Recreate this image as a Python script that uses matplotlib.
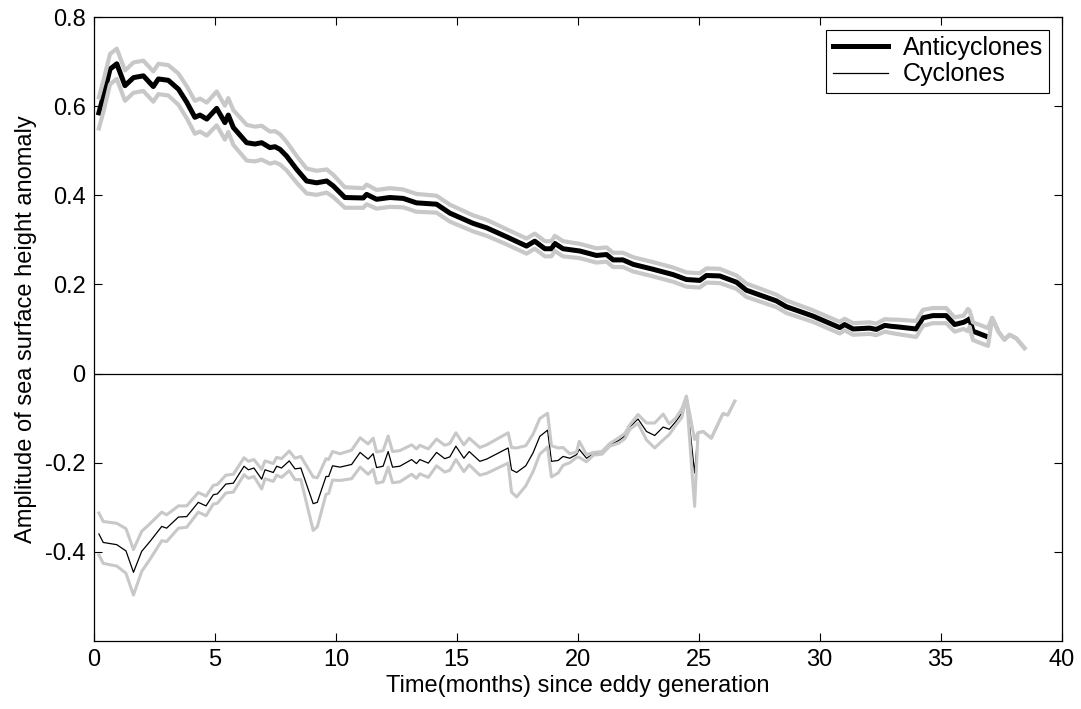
import numpy as np
import matplotlib
matplotlib.use('Agg')
import matplotlib.pyplot as plt

plt.rcParams['font.family'] = ['Liberation Sans', 'DejaVu Sans']

# Anticyclones: time (months), mean amplitude, half-width of the grey band
anti_t = [0.20, 0.40, 0.66, 0.94, 1.28, 1.63, 2.04, 2.45, 2.66, 3.07, 3.49, 3.83,
          4.17, 4.38, 4.66, 5.07, 5.41, 5.55, 5.76, 6.31, 6.65, 6.93, 7.27, 7.48,
          7.69, 7.96, 8.38, 8.79, 9.20, 9.62, 9.89, 10.37, 11.13, 11.27, 11.68,
          12.23, 12.78, 13.33, 14.16, 14.71, 15.67, 16.23, 17.05, 17.88, 18.22,
          18.64, 18.91, 19.05, 19.39, 20.08, 20.77, 21.19, 21.46, 21.87, 22.29,
          23.11, 23.94, 24.49, 25.04, 25.32, 25.87, 26.56, 26.97, 28.21, 28.62,
          29.72, 30.83, 31.03, 31.38, 32.07, 32.34, 32.69, 32.96, 33.17, 33.99,
          34.27, 34.68, 35.23, 35.58, 35.95, 36.13, 36.20, 36.34, 36.96, 37.13,
          37.40, 37.64, 37.85, 38.13, 38.47]
anti_mean = [0.585, 0.625, 0.683, 0.695, 0.646, 0.664, 0.668, 0.644, 0.661, 0.658,
             0.638, 0.609, 0.575, 0.580, 0.571, 0.595, 0.563, 0.580, 0.552, 0.518,
             0.515, 0.518, 0.507, 0.509, 0.503, 0.488, 0.458, 0.432, 0.428, 0.432,
             0.421, 0.395, 0.394, 0.402, 0.391, 0.395, 0.393, 0.383, 0.380, 0.360,
             0.337, 0.327, 0.307, 0.286, 0.297, 0.280, 0.280, 0.292, 0.280, 0.275,
             0.265, 0.267, 0.255, 0.255, 0.245, 0.234, 0.222, 0.211, 0.209, 0.220,
             0.219, 0.205, 0.187, 0.163, 0.150, 0.129, 0.103, 0.110, 0.100, 0.102,
             0.099, 0.108, 0.106, 0.105, 0.100, 0.125, 0.130, 0.130, 0.110, 0.115,
             0.120, 0.123, 0.095, 0.082, 0.125, 0.093, 0.076, 0.087, 0.079, 0.057]
anti_hw = [0.035, 0.035, 0.034, 0.034, 0.034, 0.034, 0.034, 0.034, 0.034, 0.034,
           0.035, 0.036, 0.037, 0.037, 0.037, 0.038, 0.038, 0.038, 0.039, 0.040,
           0.039, 0.038, 0.036, 0.035, 0.034, 0.032, 0.030, 0.028, 0.027, 0.026,
           0.025, 0.023, 0.022, 0.022, 0.021, 0.021, 0.020, 0.020, 0.019, 0.019,
           0.018, 0.018, 0.017, 0.017, 0.017, 0.017, 0.017, 0.017, 0.017, 0.016,
           0.016, 0.016, 0.016, 0.016, 0.016, 0.016, 0.016, 0.016, 0.016, 0.016,
           0.016, 0.015, 0.015, 0.014, 0.014, 0.013, 0.013, 0.013, 0.013, 0.013,
           0.013, 0.014, 0.015, 0.016, 0.018, 0.018, 0.017, 0.017, 0.016, 0.015,
           0.025, 0.018, 0.020, 0.020, 0.0, 0.0, 0.0, 0.0, 0.0, 0.0]

# Cyclones
cyc_t = [0.20, 0.38, 0.94, 1.32, 1.63, 1.97, 2.31, 2.80, 3.00, 3.49, 3.83, 4.31,
         4.63, 4.93, 5.10, 5.45, 5.76, 6.20, 6.38, 6.61, 6.93, 7.07, 7.41, 7.55,
         7.75, 8.07, 8.31, 8.55, 9.06, 9.23, 9.59, 9.70, 9.86, 10.17, 10.65, 11.00,
         11.33, 11.54, 11.68, 11.95, 12.16, 12.34, 12.64, 13.13, 13.33, 13.47,
         13.82, 14.16, 14.50, 14.71, 14.96, 15.29, 15.51, 15.95, 16.23, 17.12,
         17.26, 17.47, 17.85, 18.15, 18.43, 18.75, 18.91, 19.19, 19.39, 19.67,
         19.95, 20.06, 20.36, 20.65, 21.00, 21.32, 21.70, 21.95, 22.15, 22.49,
         22.84, 23.18, 23.53, 23.78, 24.05, 24.30, 24.49, 24.83, 24.97, 25.18,
         25.52, 26.00, 26.20, 26.49]
cyc_mean = [-0.360, -0.379, -0.384, -0.398, -0.446, -0.399, -0.377, -0.343, -0.347,
            -0.322, -0.321, -0.289, -0.297, -0.272, -0.270, -0.248, -0.246, -0.208,
            -0.216, -0.212, -0.237, -0.216, -0.222, -0.208, -0.212, -0.196, -0.214,
            -0.212, -0.292, -0.289, -0.231, -0.231, -0.207, -0.210, -0.204, -0.177,
            -0.192, -0.180, -0.211, -0.208, -0.175, -0.210, -0.208, -0.193, -0.202,
            -0.193, -0.201, -0.177, -0.191, -0.187, -0.163, -0.190, -0.175, -0.197,
            -0.192, -0.167, -0.216, -0.222, -0.207, -0.178, -0.141, -0.127, -0.197,
            -0.195, -0.186, -0.190, -0.182, -0.170, -0.190, -0.180, -0.178, -0.160,
            -0.150, -0.140, -0.120, -0.102, -0.130, -0.139, -0.120, -0.125, -0.108,
            -0.089, -0.051, -0.223, -0.133, -0.130, -0.145, -0.090, -0.093, -0.062]
cyc_hw = [0.047, 0.047, 0.048, 0.050, 0.051, 0.045, 0.040, 0.032, 0.030, 0.025,
          0.024, 0.022, 0.022, 0.021, 0.021, 0.020, 0.020, 0.019, 0.019, 0.019,
          0.022, 0.020, 0.020, 0.020, 0.021, 0.022, 0.024, 0.026, 0.060, 0.055,
          0.040, 0.038, 0.032, 0.030, 0.032, 0.033, 0.034, 0.035, 0.035, 0.035,
          0.035, 0.035, 0.035, 0.033, 0.033, 0.032, 0.032, 0.030, 0.030, 0.030,
          0.030, 0.030, 0.030, 0.031, 0.032, 0.034, 0.050, 0.055, 0.045, 0.042,
          0.040, 0.038, 0.035, 0.028, 0.020, 0.010, 0.006, 0.018, 0.008, 0.003,
          0.003, 0.003, 0.006, 0.006, 0.005, 0.010, 0.019, 0.028, 0.029, 0.012,
          0.008, 0.010, 0.0, 0.075, 0.0, 0.0, 0.0, 0.0, 0.0, 0.0]

x_ticks = [0, 5, 10, 15, 20, 25, 30, 35, 40]
y_ticks = [-0.4, -0.2, 0, 0.2, 0.4, 0.6, 0.8]
y_tick_labels = ['-0.4', '-0.2', '0', '0.2', '0.4', '0.6', '0.8']

grey = '#c8c8c8'

anti_t = np.array(anti_t)
anti_mean = np.array(anti_mean)
anti_hw = np.array(anti_hw)
cyc_t = np.array(cyc_t)
cyc_mean = np.array(cyc_mean)
cyc_hw = np.array(cyc_hw)

fig = plt.figure(figsize=(10.81, 7.09), dpi=100)
ax = fig.add_axes([0.087, 0.096, 0.895, 0.880])

# mean curves first, grey bands on top (they hide the mean where the band collapses)
anti_line = np.where(anti_hw > 0, anti_mean, np.nan)
ax.plot(anti_t, anti_line, color='black', lw=3.6, label='Anticyclones')
ax.plot(cyc_t, cyc_mean, color='black', lw=0.9, label='Cyclones')

ax.plot(anti_t, anti_mean + anti_hw, color=grey, lw=3.0)
ax.plot(anti_t, anti_mean - anti_hw, color=grey, lw=3.0)
ax.plot(cyc_t, cyc_mean + cyc_hw, color=grey, lw=2.2)
ax.plot(cyc_t, cyc_mean - cyc_hw, color=grey, lw=2.2)

ax.axhline(0, color='black', lw=0.9)

ax.set_xlim(0, 40)
ax.set_ylim(-0.6, 0.8)
ax.set_xticks(x_ticks)
ax.set_yticks(y_ticks)
ax.set_yticklabels(y_tick_labels)
ax.tick_params(direction='in', length=6, width=0.8, top=True, right=True,
               labelsize=17, pad=6)
for s in ax.spines.values():
    s.set_linewidth(0.9)

ax.set_xlabel('Time(months) since eddy generation', fontsize=17, labelpad=3)
ax.set_ylabel('Amplitude of sea surface height anomaly', fontsize=17, labelpad=6)

leg = ax.legend(loc='upper right', fontsize=18, fancybox=False, framealpha=1,
                edgecolor='black', handlelength=2.2, borderpad=0.25,
                labelspacing=0.1, borderaxespad=0.5, handletextpad=0.6)
leg.get_frame().set_linewidth(0.8)

fig.savefig('out.png', dpi=100)
